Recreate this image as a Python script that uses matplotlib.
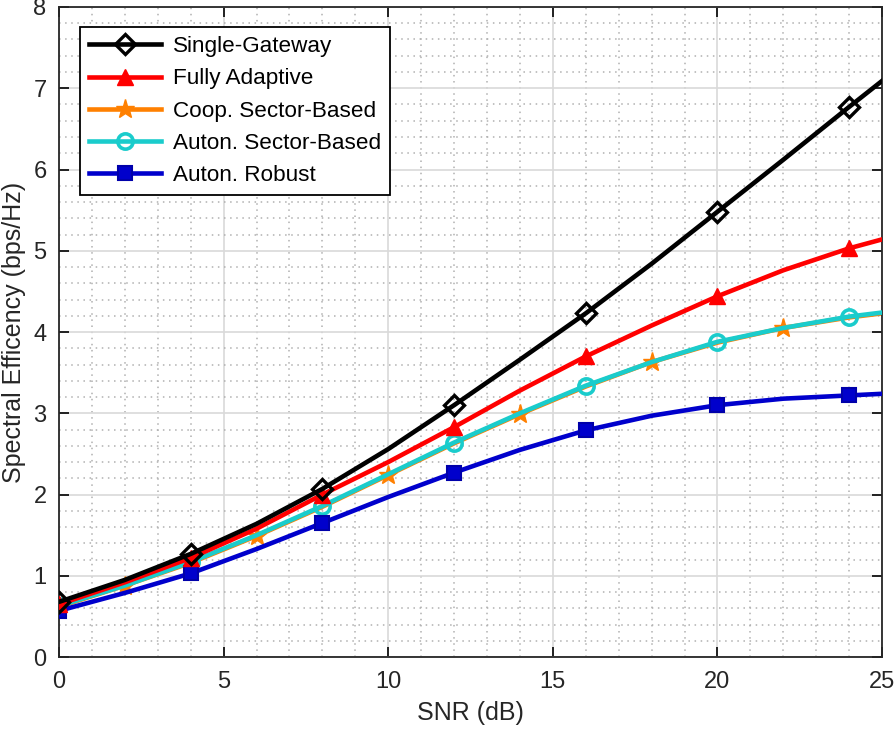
import matplotlib
matplotlib.use("Agg")
import matplotlib.pyplot as plt
from matplotlib.ticker import MultipleLocator

plt.rcParams['font.family'] = ['Liberation Sans', 'DejaVu Sans']

# SNR grid (dB)
snr = [0, 2, 4, 6, 8, 10, 12, 14, 16, 18, 20, 22, 24, 25]

single_gw = [0.68, 0.95, 1.27, 1.64, 2.07, 2.56, 3.10, 3.66, 4.23, 4.84, 5.48, 6.12, 6.77, 7.09]
fully_adaptive = [0.65, 0.92, 1.22, 1.58, 2.00, 2.40, 2.83, 3.28, 3.70, 4.08, 4.44, 4.76, 5.03, 5.14]
coop_sector = [0.62, 0.88, 1.16, 1.49, 1.85, 2.24, 2.63, 2.99, 3.33, 3.63, 3.87, 4.05, 4.18, 4.23]
auton_sector = [0.63, 0.88, 1.17, 1.50, 1.86, 2.25, 2.64, 3.00, 3.34, 3.63, 3.88, 4.05, 4.19, 4.24]
auton_robust = [0.57, 0.79, 1.03, 1.33, 1.65, 1.97, 2.27, 2.55, 2.79, 2.97, 3.10, 3.18, 3.22, 3.24]

labels = ['Single-Gateway', 'Fully Adaptive', 'Coop. Sector-Based',
          'Auton. Sector-Based', 'Auton. Robust']

main_marks = [0, 2, 4, 6, 8, 10, 12]
odd_marks = [1, 3, 5, 7, 9, 11]

fig = plt.figure(figsize=(8.95, 7.35), dpi=100)
ax = fig.add_axes([0.066, 0.106, 0.9195, 0.8845])

lw = 3.3
ax.plot(snr, single_gw, color='black', lw=lw, marker='D', ms=10, mew=2.4,
        mfc='none', markevery=main_marks, label=labels[0], zorder=5)
ax.plot(snr, fully_adaptive, color='#FF0000', lw=lw, marker='^', ms=12,
        mfc='#FF0000', mec='#FF0000', markevery=main_marks, label=labels[1], zorder=4)
ax.plot(snr, coop_sector, color='#FF8000', lw=lw, marker='*', ms=14,
        mfc='#FF8000', mec='#FF8000', markevery=odd_marks, label=labels[2], zorder=2)
ax.plot(snr, auton_sector, color='#1ACCCC', lw=lw, marker='o', ms=11, mew=2.6,
        mfc='none', markevery=main_marks, label=labels[3], zorder=3)
ax.plot(snr, auton_robust, color='#0000CC', lw=lw, marker='s', ms=10, mew=1.5,
        mfc='#0000CC', mec='#0000AA', markevery=main_marks, label=labels[4], zorder=3)

ax.set_xlim(0, 25)
ax.set_ylim(0, 8)
ax.xaxis.set_major_locator(MultipleLocator(5))
ax.xaxis.set_minor_locator(MultipleLocator(1))
ax.yaxis.set_major_locator(MultipleLocator(1))
ax.yaxis.set_minor_locator(MultipleLocator(0.2))

ax.grid(which='major', color='#D9D9D9', lw=1.2, ls='-')
ax.grid(which='minor', color='#B0B0B0', lw=1.1, ls=(0, (1, 3)))
ax.set_axisbelow(True)

ax.tick_params(which='both', direction='in', top=True, right=True,
               labelsize=17, width=1.2, labelcolor='#262626')
ax.tick_params(which='major', length=7)
ax.tick_params(axis='x', which='major', pad=10)
ax.tick_params(axis='y', which='major', pad=9)
ax.tick_params(which='minor', length=0)
for s in ax.spines.values():
    s.set_linewidth(1.3)
    s.set_color('#262626')

ax.set_xlabel('SNR (dB)', fontsize=18, color='#262626', labelpad=6)
ax.set_ylabel('Spectral Efficency (bps/Hz)', fontsize=18, color='#262626', labelpad=5)

leg = ax.legend(loc='upper left', bbox_to_anchor=(0.026, 0.969), fontsize=16.2,
                handlelength=3.2, fancybox=False, framealpha=1,
                edgecolor='black', borderpad=0.4, labelspacing=0.5,
                handletextpad=0.5, borderaxespad=0)
leg.get_frame().set_linewidth(1.3)

fig.savefig('out.png', dpi=100)
